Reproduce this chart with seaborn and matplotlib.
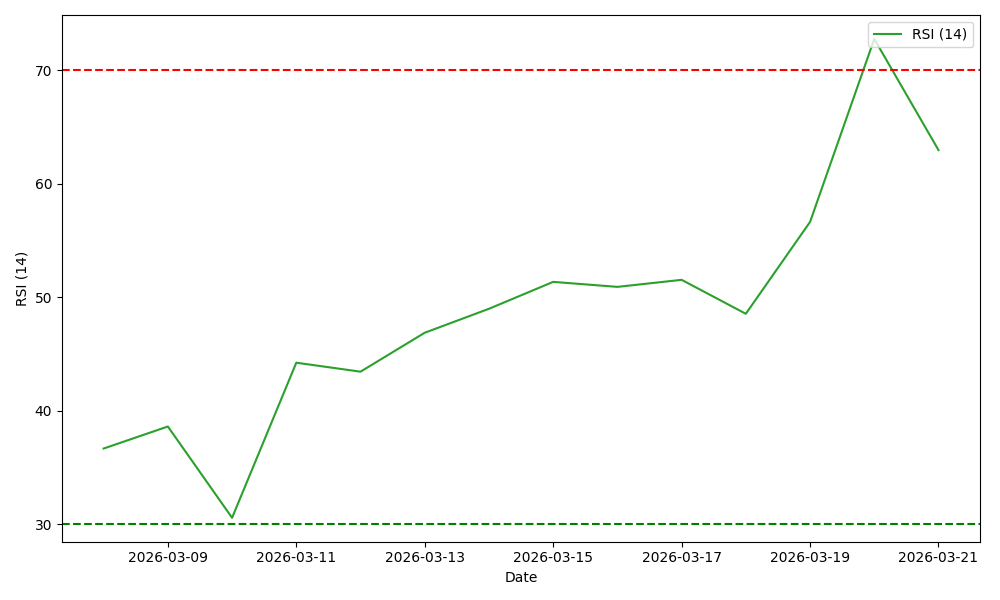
import matplotlib
matplotlib.use("Agg")
import matplotlib.pyplot as plt
import seaborn as sns
import pandas as pd

dates = pd.date_range("2026-03-08", "2026-03-21", freq="D")
rsi = [36.68, 38.62, 30.58, 44.24, 43.45, 46.88, 48.99, 51.36, 50.92, 51.54,
       48.55, 56.64, 72.76, 62.97]
overbought = 70
oversold = 30

df = pd.DataFrame({"Date": dates, "RSI": rsi})

fig, ax = plt.subplots(figsize=(10, 6), dpi=100)
sns.lineplot(data=df, x="Date", y="RSI", ax=ax, color="#2ca02c", label="RSI (14)")
ax.axhline(overbought, color="red", linestyle="--")
ax.axhline(oversold, color="green", linestyle="--")
ax.set_xlabel("Date")
ax.set_ylabel("RSI (14)")
ax.legend(loc="upper right")
fig.tight_layout()
fig.savefig("out.png")
